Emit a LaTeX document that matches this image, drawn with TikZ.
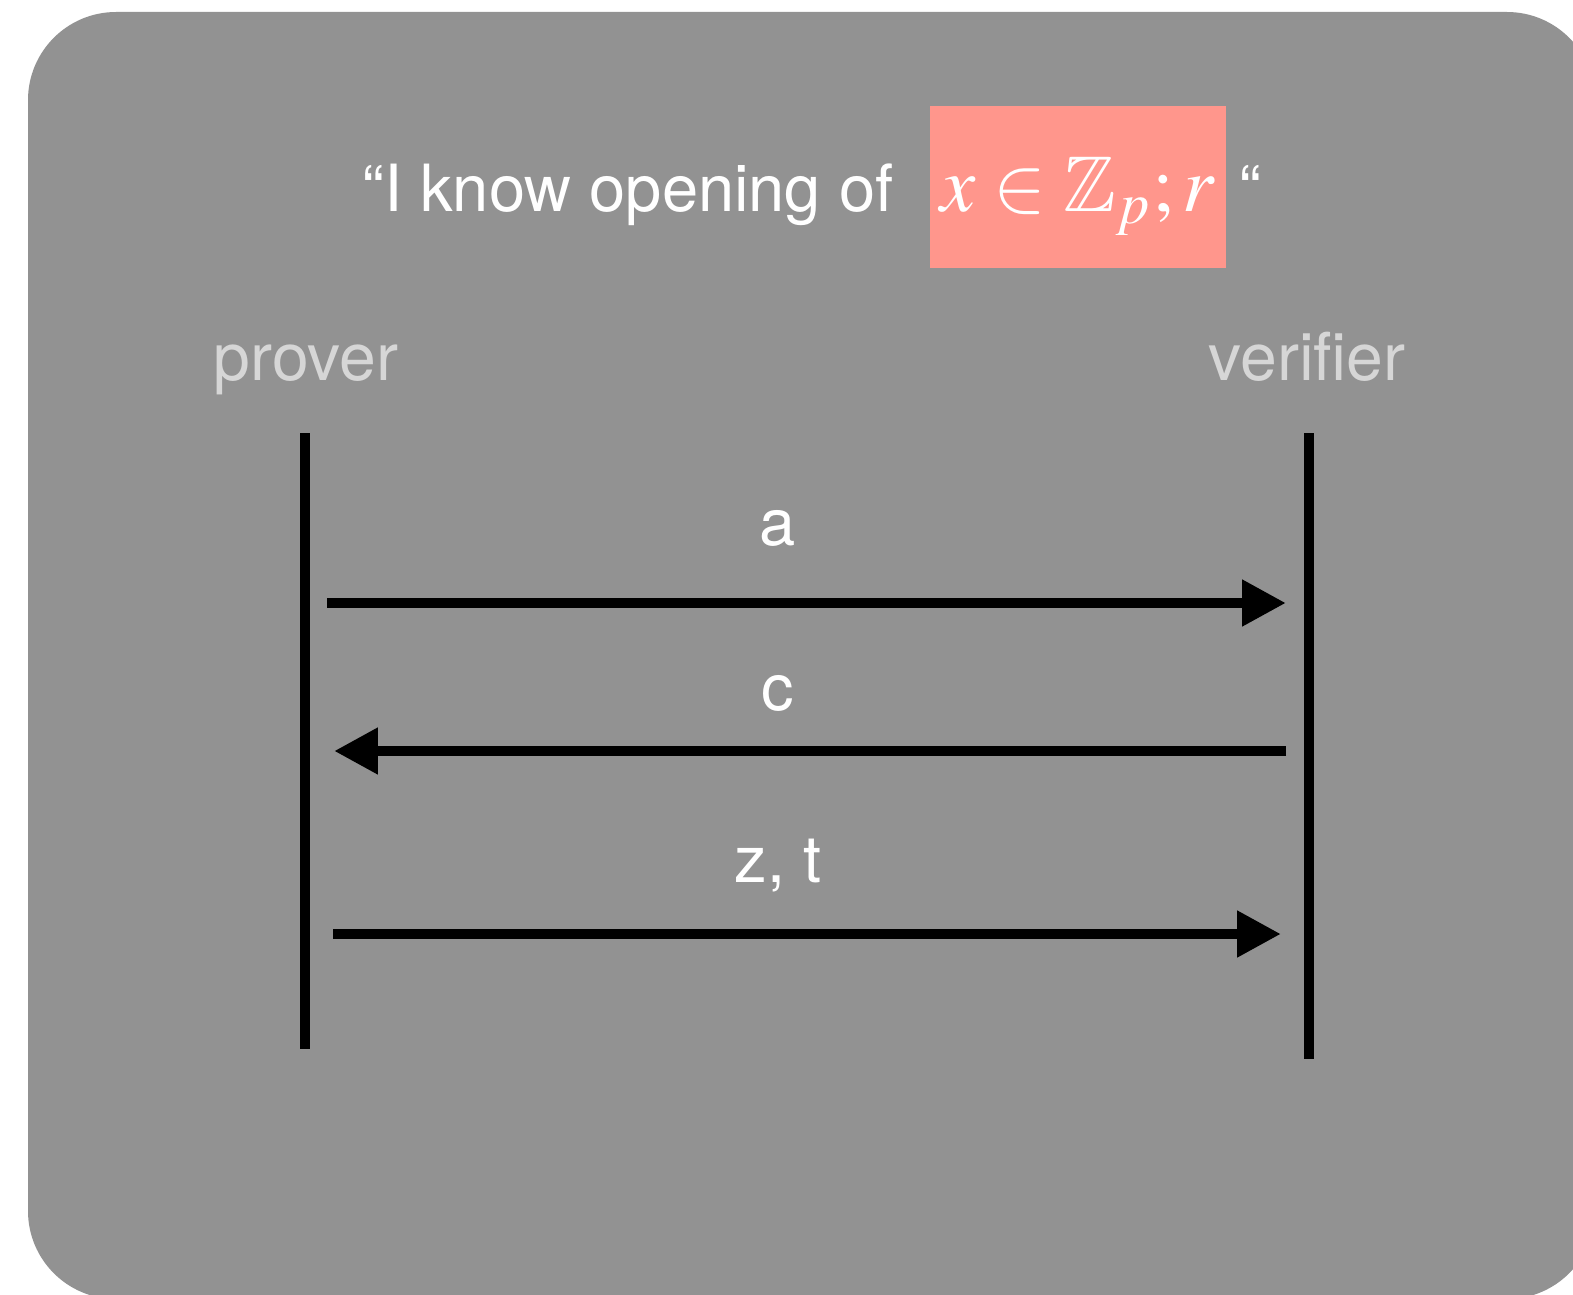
\documentclass[tikz,border=0pt]{standalone}
\usepackage{amssymb}
\usepackage{mathptmx}
\usepackage[no-math]{fontspec}
\setmainfont{TeX Gyre Heros}
\usepackage{tikz}
\usetikzlibrary{positioning, arrows.meta}
\definecolor{SlateGray}{HTML}{929292}
\definecolor{SalmonPink}{HTML}{FF968C}
\definecolor{RoleGray}{HTML}{D6D6D6}

\begin{document}
\begin{tikzpicture}[x=0.01cm, y=-0.01cm,
    lifeline/.style={line width=3.1pt},
    message/.style={line width=3.1pt, -{Triangle[length=12.5pt, width=12.5pt]}},
    role/.style={text=RoleGray, font=\fontsize{18.8}{23}\selectfont, inner sep=0pt, anchor=base},
    msglabel/.style={text=white, font=\fontsize{18.5}{22}\selectfont, inner sep=0pt, anchor=base}]
  \useasboundingbox (0,0) rectangle (1573,1294);
  \fill[SlateGray, rounded corners=0.88cm] (28,12) rectangle (1595,1299);
  % Statement
  \node[fill=SalmonPink, text=white, inner sep=0pt, text height=1.06cm, text depth=0.56cm,
        minimum width=2.96cm, font=\fontsize{22.5}{27}\selectfont, anchor=base] (stmt) at (1078,212)
        {$x \in \mathbb{Z}_p; r$};
  \node[text=white, inner sep=0pt, font=\fontsize{18.5}{22}\selectfont,
        left=0.35cm of stmt.base west, anchor=base east] (claim) {“I know opening of};
  \node[text=white, inner sep=0pt, font=\fontsize{18.5}{22}\selectfont,
        right=0.12cm of stmt.base east, anchor=base west] (quote) {“};
  % Parties
  \node[role] (prover) at (306,380) {prover};
  \node[role] (verifier) at (1307,380) {verifier};
  \coordinate (prover-top) at (305,433);
  \coordinate (prover-bot) at (305,1049);
  \coordinate (verifier-top) at (1309,433);
  \coordinate (verifier-bot) at (1309,1059);
  \draw[lifeline] (prover-top) -- (prover-bot);
  \draw[lifeline] (verifier-top) -- (verifier-bot);
  % Messages
  \coordinate (a-from) at (327,603);
  \coordinate (a-to) at (1286,603);
  \coordinate (c-from) at (1286,751);
  \coordinate (c-to) at (334,751);
  \coordinate (zt-from) at (333,934);
  \coordinate (zt-to) at (1281,934);
  \draw[message] (a-from) -- (a-to);
  \draw[message] (c-from) -- (c-to);
  \draw[message] (zt-from) -- (zt-to);
  \node[msglabel] (a-label) at (778,545) {a};
  \node[msglabel] (c-label) at (778,710) {c};
  \node[msglabel] (zt-label) at (778,882) {z, t};
\end{tikzpicture}
\end{document}
